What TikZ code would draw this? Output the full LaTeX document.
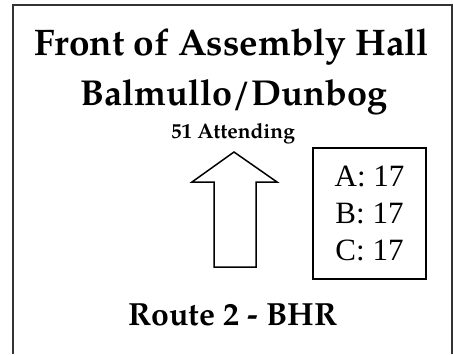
\documentclass[tikz,border=0pt]{standalone}
\usepackage{fontspec}
\setmainfont{texgyrepagella}[Extension=.otf, UprightFont=*-regular, BoldFont=*-bold]
\newfontfamily\countfont{Liberation Serif}

\tikzset{
    heading/.style={anchor=base, font=\bfseries\fontsize{37}{40}\selectfont},
    subheading/.style={anchor=base, font=\bfseries\fontsize{21}{24}\selectfont},
    countbox/.style={draw, line width=1.6pt, minimum width=113pt, minimum height=131pt,
        align=center, font=\countfont\fontsize{31}{37}\selectfont},
}

\begin{document}
\begin{tikzpicture}[x=1pt, y=-1pt]
    \useasboundingbox (0,0) rectangle (453,354);

    % Draw frame (open at the bottom)
    \draw[line width=2pt, black!80] (13,354) -- (13,5) -- (452,5) -- (452,354);

    % Titles
    \node[heading] (hall) at (232,55) {Front of Assembly Hall};
    \node[heading, font=\bfseries\fontsize{36}{40}\selectfont] (school) at (234,105) {Balmullo/Dunbog};
    \node[subheading] (attending) at (233,138) {51 Attending};

    % Arrow
    \draw[line width=1.5pt] (234,152) -- (277,182) -- (256,182) -- (256,267)
        -- (214,267) -- (214,182) -- (192,182) -- cycle;

    % Counts per class
    \node[countbox] (counts) at (369.5,213.5) {A: 17\\B: 17\\C: 17};

    % Route
    \node[heading, font=\bfseries\fontsize{32}{35}\selectfont] (route) at (233,325) {Route 2 - BHR};
\end{tikzpicture}
\end{document}
